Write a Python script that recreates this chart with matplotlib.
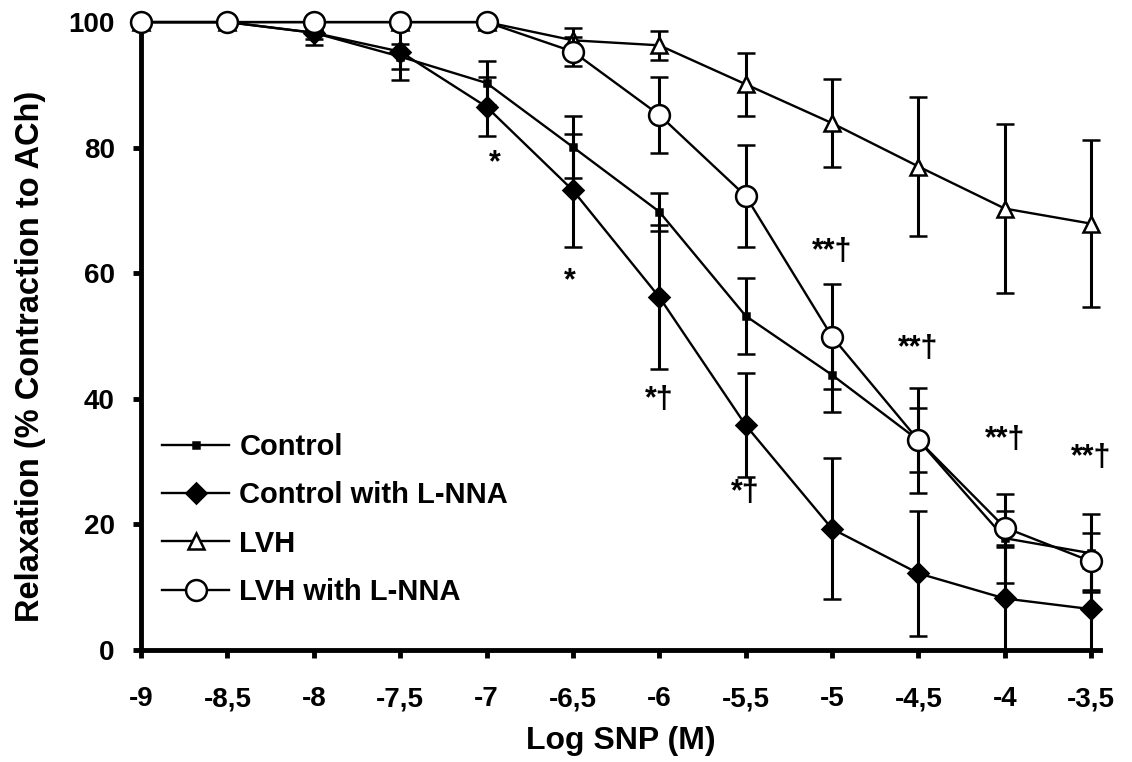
import matplotlib
matplotlib.use("Agg")
import matplotlib.pyplot as plt

plt.rcParams['font.family'] = ['Liberation Sans', 'DejaVu Sans']
plt.rcParams['font.weight'] = 'bold'

log_snp = [-9, -8.5, -8, -7.5, -7, -6.5, -6, -5.5, -5, -4.5, -4, -3.5]
tick_labels = ["-9", "-8,5", "-8", "-7,5", "-7", "-6,5", "-6", "-5,5", "-5", "-4,5", "-4", "-3,5"]

control = [100, 100, 98.3, 94.5, 90.3, 80.1, 69.8, 53.2, 43.8, 33.4, 17.8, 15.4]
control_err = [0, 0, 2.0, 2.0, 3.5, 5.0, 3.0, 6.0, 5.9, 5.1, 7.1, 6.2]

control_lnna = [100, 100, 98.3, 95.3, 86.5, 73.2, 56.2, 35.8, 19.3, 12.2, 8.2, 6.5]
control_lnna_err = [0, 0, 1.0, 4.5, 4.7, 9.0, 11.5, 8.3, 11.2, 9.9, 8.2, 6.5]

lvh = [100, 100, 100, 100, 100, 97.1, 96.3, 90.1, 83.9, 77.0, 70.3, 67.9]
lvh_err = [0, 0, 0, 0, 0, 1.9, 2.3, 5.0, 7.0, 11.0, 13.5, 13.3]

lvh_lnna = [100, 100, 100, 100, 100, 95.3, 85.2, 72.3, 49.9, 33.4, 19.5, 14.1]
lvh_lnna_err = [0, 0, 0, 0, 0, 2.3, 6.0, 8.1, 8.4, 8.4, 2.7, 4.5]

# significance marks
sig_x = [-6.95, -6.52, -6.0, -5.5, -5.0, -4.5, -4.0, -3.5]
sig_y = [77.5, 58.7, 39.8, 25.0, 63.4, 48.0, 33.4, 30.6]
sig_txt = ["*", "*", "*\u2020", "*\u2020", "**\u2020", "**\u2020", "**\u2020", "**\u2020"]

fig = plt.figure(figsize=(11.32, 7.62), dpi=100)
ax = fig.add_axes([0.1246, 0.147, 0.847, 0.824])

common = dict(color='black', ecolor='black', elinewidth=2.2, capsize=6.5,
              capthick=2.2, linewidth=1.7, clip_on=False)
series = [
    (control, control_err, 's', 'black', 5, "Control"),
    (control_lnna, control_lnna_err, 'D', 'black', 10, "Control with L-NNA"),
    (lvh, lvh_err, '^', 'white', 11, "LVH"),
    (lvh_lnna, lvh_lnna_err, 'o', 'white', 15, "LVH with L-NNA"),
]
handles = []
for i, (y, e, m, fc, ms, lab) in enumerate(series):
    eb = ax.errorbar(log_snp, y, yerr=e, marker=m, markerfacecolor=fc,
                     markeredgecolor='black', markeredgewidth=1.8, markersize=ms,
                     label=lab, zorder=3 + i, **common)
    for c in eb[1] + eb[2]:
        c.set_clip_on(False)
    handles.append(eb[0])

for sx, sy, st in zip(sig_x, sig_y, sig_txt):
    ax.text(sx, sy, st, ha='center', va='center', fontsize=22, fontweight='bold')

ax.set_xlim(-9, -3.45)
ax.set_ylim(0, 100)
ax.set_xticks(log_snp)
ax.set_xticklabels(tick_labels)
ax.set_yticks([0, 20, 40, 60, 80, 100])

for s in ['top', 'right']:
    ax.spines[s].set_visible(False)
for s in ['left', 'bottom']:
    ax.spines[s].set_linewidth(3.5)

ax.tick_params(axis='x', direction='out', length=6, width=3.5, pad=20, labelsize=20)
ax.tick_params(axis='y', direction='out', length=6, width=3.5, pad=13, labelsize=20)

ax.set_xlabel("Log SNP (M)", fontsize=23, fontweight='bold', labelpad=10)
ax.set_ylabel("Relaxation (% Contraction to ACh)", fontsize=23.5, fontweight='bold')
ax.yaxis.set_label_coords(-0.099, 0.467)

ax.legend(handles=handles, labels=[s[5] for s in series], loc='upper left',
          bbox_to_anchor=(0.022, 0.346), frameon=False, fontsize=21,
          handlelength=2.3, handletextpad=0.35, labelspacing=0.7, borderpad=0,
          borderaxespad=0)

fig.savefig("out.png", dpi=100)
